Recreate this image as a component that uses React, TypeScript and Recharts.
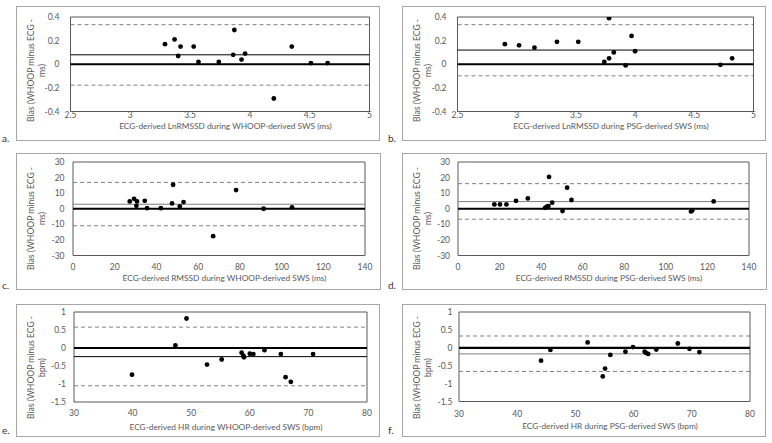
import React from 'react';
import { ScatterChart, Scatter, XAxis, YAxis, ReferenceLine, ReferenceArea } from 'recharts';

// a. LnRMSSD, WHOOP-derived SWS
const aX = [3.29, 3.37, 3.42, 3.4, 3.53, 3.57, 3.74, 3.87, 3.86, 3.93, 3.96, 4.2, 4.35, 4.51, 4.65];
const aY = [0.17, 0.21, 0.15, 0.07, 0.15, 0.02, 0.02, 0.29, 0.08, 0.04, 0.09, -0.29, 0.15, 0.01, 0.01];
const aLines = { mean: 0.08, upper: 0.335, lower: -0.177 };

// b. LnRMSSD, PSG-derived SWS
const bX = [2.9, 3.02, 3.15, 3.34, 3.52, 3.78, 3.74, 3.78, 3.82, 3.92, 3.97, 4.0, 4.72, 4.82];
const bY = [0.17, 0.16, 0.14, 0.19, 0.19, 0.39, 0.02, 0.05, 0.1, -0.01, 0.24, 0.11, -0.005, 0.05];
const bLines = { mean: 0.12, upper: 0.335, lower: -0.098 };

// c. RMSSD, WHOOP-derived SWS
const cX = [27.2, 29.3, 30.7, 30.4, 34.4, 35.5, 42.1, 47.5, 48.0, 51.2, 53.0, 67.2, 78.2, 91.4, 105.0];
const cY = [4.7, 6.4, 4.7, 1.9, 5.1, 0.4, 0.4, 3.4, 15.4, 1.5, 4.3, -17.6, 12.0, 0.0, 0.9];
const cLines = { mean: 2.9, upper: 16.9, lower: -10.9 };

// d. RMSSD, PSG-derived SWS
const dX = [17.5, 20.2, 23.3, 27.9, 33.6, 41.9, 42.7, 43.5, 43.8, 45.3, 50.3, 52.5, 54.6, 112.1, 112.7, 123.0];
const dY = [2.8, 2.8, 2.8, 5.1, 6.6, 0.6, 1.3, 1.7, 20.4, 3.9, -1.5, 13.5, 5.6, -1.7, -1.1, 4.7];
const dLines = { mean: 4.6, upper: 16.1, lower: -6.7 };

// e. HR, WHOOP-derived SWS
const eX = [39.9, 47.3, 49.2, 52.7, 55.2, 58.6, 58.9, 59.0, 60.0, 60.6, 62.5, 65.3, 66.1, 67.0, 70.8];
const eY = [-0.74, 0.07, 0.82, -0.46, -0.32, -0.13, -0.21, -0.26, -0.16, -0.17, -0.06, -0.17, -0.81, -0.94, -0.17];
const eLines = { mean: -0.24, upper: 0.58, lower: -1.05 };

// f. HR, PSG-derived SWS
const fX = [44.1, 45.7, 52.1, 54.7, 55.1, 56.0, 58.6, 59.9, 61.9, 62.1, 62.5, 63.9, 67.6, 69.6, 71.3];
const fY = [-0.36, -0.06, 0.15, -0.8, -0.58, -0.2, -0.11, 0.02, -0.11, -0.14, -0.17, -0.05, 0.12, -0.03, -0.12];
const fLines = { mean: -0.17, upper: 0.33, lower: -0.66 };

const lnTicksX = [2.5, 3, 3.5, 4, 4.5, 5];
const lnTicksY = [-0.4, -0.2, 0, 0.2, 0.4];
const rmssdTicksX = [0, 20, 40, 60, 80, 100, 120, 140];
const rmssdTicksY = [-30, -20, -10, 0, 10, 20, 30];
const hrTicksX = [30, 40, 50, 60, 70, 80];
const hrTicksY = [-1.5, -1, -0.5, 0, 0.5, 1];

const FONT = 'Lato, "Open Sans", sans-serif';
const TXT = '#595959';

const toPoints = (xs: number[], ys: number[]) => xs.map((x, i) => ({ x, y: ys[i] }));

const Dot = (props: any) => <circle cx={props.cx} cy={props.cy} r={2.4} fill="#000" />;

interface PanelProps {
  letter: string;
  box: { x: number; y: number; w: number; h: number };
  plot: { l: number; r: number; t: number; b: number };
  xs: number[];
  ys: number[];
  lines: { mean: number; upper: number; lower: number };
  ticksX: number[];
  ticksY: number[];
  xTitle: string;
  yTitle: [string, string];
  meanColor: string;
  xTickGap: number;
  yTickGap: number;
  xTitleY: number;
  letterY: number;
}

const Panel = (p: PanelProps) => {
  const { box, plot } = p;
  const w = box.w - 2;
  const h = box.h - 2;
  const ox = box.x + 1;
  const oy = box.y + 1;
  const yAxisW = plot.l - ox;
  const xAxisH = oy + h - plot.b;
  const data = toPoints(p.xs, p.ys);
  const xMin = p.ticksX[0];
  const xMax = p.ticksX[p.ticksX.length - 1];
  const yMin = p.ticksY[0];
  const yMax = p.ticksY[p.ticksY.length - 1];

  const yTitleCy = box.y + box.h / 2 - 3 - oy;
  const yTitle = () => (
    <g fontFamily={FONT} fontSize={8.6} fill={TXT}>
      <text x={box.x + 15 - ox} y={yTitleCy} textAnchor="middle" dy="0.35em"
        transform={`rotate(-90 ${box.x + 15 - ox} ${yTitleCy})`}>{p.yTitle[0]}</text>
      <text x={box.x + 25.5 - ox} y={yTitleCy} textAnchor="middle" dy="0.35em"
        transform={`rotate(-90 ${box.x + 25.5 - ox} ${yTitleCy})`}>{p.yTitle[1]}</text>
    </g>
  );
  const xTitle = () => (
    <text x={(plot.l + plot.r) / 2 + 5.5 - ox} y={p.xTitleY - oy} textAnchor="middle" dy="0.35em"
      fontFamily={FONT} fontSize={8.3} fill={TXT}>{p.xTitle}</text>
  );

  return (
    <>
      <div style={{ position: 'absolute', left: box.x, top: box.y, width: box.w, height: box.h,
        border: '1px solid #a6a6a6', boxSizing: 'border-box', background: '#fff' }}>
        <ScatterChart width={w} height={h}
          margin={{ top: plot.t - oy, right: ox + w - plot.r, bottom: 0, left: 0 }}>
          <XAxis type="number" dataKey="x" domain={[xMin, xMax]} ticks={p.ticksX} allowDataOverflow
            axisLine={false} tickLine={false} tickSize={0} tickMargin={p.xTickGap} height={xAxisH}
            tick={{ fontSize: 8.5, fill: TXT, fontFamily: FONT }} interval={0}
            label={{ content: xTitle }} />
          <YAxis type="number" dataKey="y" domain={[yMin, yMax]} ticks={p.ticksY} allowDataOverflow
            axisLine={false} tickLine={false} tickSize={0} tickMargin={p.yTickGap} width={yAxisW}
            tick={{ fontSize: 8.5, fill: TXT, fontFamily: FONT }} interval={0}
            label={{ content: yTitle }} />
          <ReferenceArea x1={xMin} x2={xMax} y1={yMin} y2={yMax} fill="none" stroke="#595959" strokeWidth={1} />
          <ReferenceLine y={p.lines.upper} stroke="#808080" strokeDasharray="4 3" />
          <ReferenceLine y={p.lines.lower} stroke="#808080" strokeDasharray="4 3" />
          <ReferenceLine y={p.lines.mean} stroke={p.meanColor} strokeWidth={1} />
          <ReferenceLine y={0} stroke="#000" strokeWidth={2.2} />
          <Scatter data={data} shape={Dot} isAnimationActive={false} />
        </ScatterChart>
      </div>
      <span style={{ position: 'absolute', left: box.x - 14, top: p.letterY - 9, fontFamily: FONT,
        fontSize: 10, color: '#333', lineHeight: '10px' }}>{p.letter}</span>
    </>
  );
};

const App = () => {
  const ln = 'Bias (WHOOP minus ECG -';
  return (
    <div style={{ position: 'absolute', left: 0, top: 0, width: 772, height: 443, background: '#fff' }}>
      <Panel letter="a." box={{ x: 16, y: 6, w: 364, h: 135 }} plot={{ l: 70.5, r: 369.5, t: 17, b: 111.5 }}
        xs={aX} ys={aY} lines={aLines} ticksX={lnTicksX} ticksY={lnTicksY}
        xTitle="ECG-derived LnRMSSD during WHOOP-derived SWS (ms)" yTitle={[ln, 'ms)']}
        meanColor="#000" xTickGap={0.5} yTickGap={11} xTitleY={126} letterY={142} />
      <Panel letter="b." box={{ x: 402, y: 6, w: 364, h: 135 }} plot={{ l: 457.5, r: 753.5, t: 17, b: 111.5 }}
        xs={bX} ys={bY} lines={bLines} ticksX={lnTicksX} ticksY={lnTicksY}
        xTitle="ECG-derived LnRMSSD during PSG-derived SWS (ms)" yTitle={[ln, 'ms)']}
        meanColor="#000" xTickGap={0.5} yTickGap={11} xTitleY={126} letterY={142} />
      <Panel letter="c." box={{ x: 16, y: 153, w: 365, h: 137 }} plot={{ l: 73, r: 365, t: 162, b: 255.5 }}
        xs={cX} ys={cY} lines={cLines} ticksX={rmssdTicksX} ticksY={rmssdTicksY}
        xTitle="ECG-derived RMSSD during WHOOP-derived SWS (ms)" yTitle={[ln, 'ms)']}
        meanColor="#7f7f7f" xTickGap={8.5} yTickGap={8.5} xTitleY={278.5} letterY={289} />
      <Panel letter="d." box={{ x: 402, y: 153, w: 365, h: 137 }} plot={{ l: 458, r: 749, t: 162, b: 255.5 }}
        xs={dX} ys={dY} lines={dLines} ticksX={rmssdTicksX} ticksY={rmssdTicksY}
        xTitle="ECG-derived RMSSD during PSG-derived SWS (ms)" yTitle={[ln, 'ms)']}
        meanColor="#7f7f7f" xTickGap={8.5} yTickGap={8} xTitleY={278.5} letterY={289} />
      <Panel letter="e." box={{ x: 16, y: 304, w: 364, h: 133 }} plot={{ l: 74, r: 367, t: 312, b: 402 }}
        xs={eX} ys={eY} lines={eLines} ticksX={hrTicksX} ticksY={hrTicksY}
        xTitle="ECG-derived HR during WHOOP-derived SWS (bpm)" yTitle={[ln, 'bpm)']}
        meanColor="#000" xTickGap={8} yTickGap={8} xTitleY={427.5} letterY={434} />
      <Panel letter="f." box={{ x: 402, y: 304, w: 364, h: 133 }} plot={{ l: 459, r: 750, t: 312, b: 401.5 }}
        xs={fX} ys={fY} lines={fLines} ticksX={hrTicksX} ticksY={hrTicksY}
        xTitle="ECG-derived HR during PSG-derived SWS (bpm)" yTitle={[ln, 'bpm)']}
        meanColor="#7f7f7f" xTickGap={9} yTickGap={6.5} xTitleY={426.5} letterY={434} />
    </div>
  );
};

export default App;
